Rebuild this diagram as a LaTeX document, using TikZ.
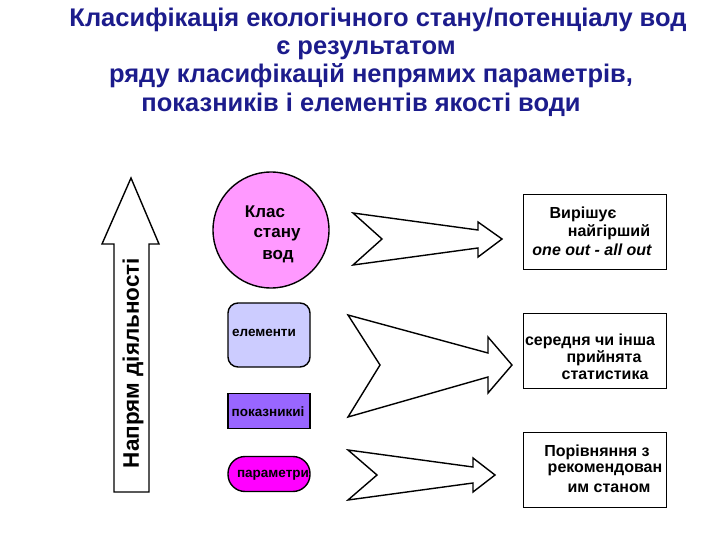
\documentclass[tikz,border=0pt]{standalone}
\usepackage{fontspec}
\setmainfont{Liberation Sans}
\usetikzlibrary{positioning}
\definecolor{titleblue}{RGB}{28,28,140}
\definecolor{circpink}{RGB}{255,153,255}
\definecolor{elemblue}{RGB}{204,204,255}
\definecolor{pokviolet}{RGB}{153,102,255}
\definecolor{parmag}{RGB}{255,0,255}

\begin{document}
\begin{tikzpicture}[x=1pt,y=-1pt,line width=1.4pt,every node/.style={inner sep=0pt},
  title/.style={text=titleblue,anchor=base,font=\bfseries\fontsize{25.5}{28}\selectfont},
  txt/.style={font=\bfseries\fontsize{16}{18}\selectfont},
  circtxt/.style={font=\bfseries\fontsize{17}{19}\selectfont},
  small/.style={font=\bfseries\fontsize{13.5}{15}\selectfont},
  outbox/.style={draw=black,minimum width=143pt,minimum height=75pt},
  smallbox/.style={draw=black,minimum width=82pt},
  blockarrow/.style={draw=black,fill=white,line join=miter}]
\useasboundingbox (0,0) rectangle (720,540);
% title
\node[title] (t1) at (378,27) {Класифікація екологічного стану/потенціалу вод};
\node[title] (t2) at (366,55) {є результатом};
\node[title] (t3) at (371,83) {ряду класифікацій непрямих параметрів,};
\node[title] (t4) at (361,112) {показників і елементів якості води};
% direction arrow
\draw[blockarrow] (131,178) -- (159,244) -- (149,244) -- (149,492) -- (114,492)
  -- (114,244) -- (102,244) -- cycle;
\node[rotate=90,font=\bfseries\fontsize{22.5}{24}\selectfont] (dir) at (133,363) {Напрям діяльності};
% left column
\node[circle,draw=black,fill=circpink,minimum size=116pt] (klas) at (271,230) {};
\node[circtxt] (k1) at (265,212) {Клас};
\node[circtxt] (k2) at (277,235) {стану};
\node[circtxt] (k3) at (278,257) {вод};
\node[smallbox,fill=elemblue,rounded corners=10pt,minimum height=64pt] (elem) at (269,335) {};
\node[small] (elemt) at (264,333) {елементи};
\node[smallbox,fill=pokviolet,minimum height=35pt] (pok) at (269,411) {};
\node[small] (pokt) at (268,412) {показникиі};
\node[smallbox,fill=parmag,rounded corners=17pt,minimum height=35pt] (par) at (269,474) {};
\node[small] (part) at (273,475) {параметри};
% block arrows
\draw[blockarrow] (353,213) -- (478,230) -- (478,222) -- (502,239) -- (478,257)
  -- (478,248) -- (353,265) -- (382,239) -- cycle;
\draw[blockarrow] (348,315) -- (488,353) -- (488,337) -- (512,365) -- (488,393)
  -- (488,377) -- (348,417) -- (380,365) -- cycle;
\draw[blockarrow] (348,450) -- (473,467) -- (473,458) -- (495,475) -- (473,492)
  -- (473,483) -- (348,500) -- (377,475) -- cycle;
% result boxes
\node[outbox] (worst) at (595,232) {};
\node[txt] (w1) at (583,214) {Вирішує};
\node[txt] (w2) at (609,232) {найгірший};
\node[txt,font=\bfseries\itshape\fontsize{16}{18}\selectfont] (w3) at (592,250) {one out - all out};
\node[outbox] (stat) at (595,351) {};
\node[txt] (s1) at (590,341) {середня чи інша};
\node[txt] (s2) at (604,358) {прийнята};
\node[txt] (s3) at (605,375) {статистика};
\node[outbox] (ref) at (595,470) {};
\node[txt] (r1) at (597,452) {Порівняння з};
\node[txt] (r2) at (605,470) {рекомендован};
\node[txt] (r3) at (609,488) {им станом};
\end{tikzpicture}
\end{document}
